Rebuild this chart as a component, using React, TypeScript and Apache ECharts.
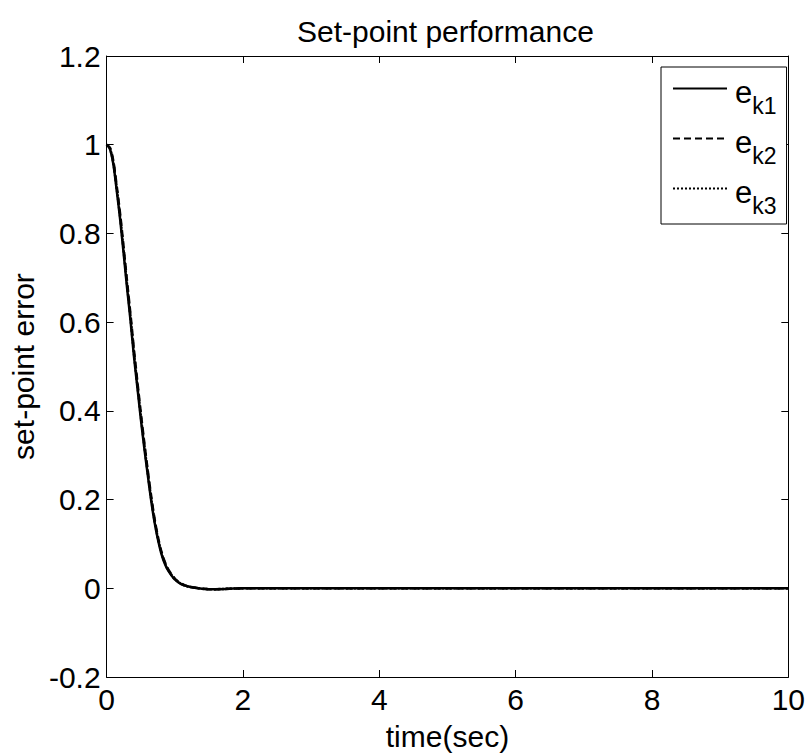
import React, { useEffect, useRef } from "react";
import * as echarts from "echarts";

const FONT = "'Liberation Sans', Arial, Helvetica, sans-serif";

const timeSec = [
  0, 0.05, 0.1, 0.15, 0.2, 0.25, 0.3, 0.35, 0.4, 0.45, 0.5, 0.55, 0.6, 0.65, 0.7, 0.75, 0.8, 0.85, 0.9,
  1.0, 1.1, 1.2, 1.3, 1.4, 1.5, 1.6, 1.8, 2.0, 3, 4, 5, 6, 7, 8, 9, 10,
];
const ek1 = [
  1.0, 0.99, 0.955, 0.895, 0.83, 0.755, 0.678, 0.605, 0.525, 0.455, 0.385, 0.32, 0.26, 0.202, 0.152, 0.112, 0.08, 0.057, 0.041,
  0.02, 0.009, 0.004, 0.001, -0.001, -0.002, -0.002, -0.001, 0, 0, 0, 0, 0, 0, 0, 0, 0,
];
const ek2 = [
  1.0, 0.993, 0.962, 0.905, 0.842, 0.768, 0.692, 0.618, 0.54, 0.468, 0.398, 0.332, 0.27, 0.212, 0.16, 0.118, 0.085, 0.061, 0.044,
  0.022, 0.01, 0.004, 0.001, -0.001, -0.002, -0.002, -0.001, 0, 0, 0, 0, 0, 0, 0, 0, 0,
];
const ek3 = [
  1.0, 0.991, 0.958, 0.9, 0.836, 0.761, 0.685, 0.611, 0.532, 0.461, 0.391, 0.326, 0.265, 0.207, 0.156, 0.115, 0.082, 0.059, 0.042,
  0.021, 0.0095, 0.004, 0.001, -0.001, -0.002, -0.002, -0.001, 0, 0, 0, 0, 0, 0, 0, 0, 0,
];
const seriesNames = ["ek1", "ek2", "ek3"];
const seriesValues = [ek1, ek2, ek3];
const lineTypes: any[] = ["solid", [7, 4], [2, 2]];

const titleText = "Set-point performance";
const xName = "time(sec)";
const yName = "set-point error";

export default function App() {
  const ref = useRef<HTMLDivElement>(null);
  useEffect(() => {
    if (!ref.current) return;
    const chart = echarts.init(ref.current, undefined, { renderer: "svg" });
    const axisLineStyle = { color: "#000", width: 1 };
    const tick = { show: true, inside: true, length: 7, lineStyle: { color: "#000", width: 1 } };
    const labelStyle = { color: "#000", fontSize: 30, fontFamily: FONT };
    const fmt = (v: number) => String(+v.toFixed(1));
    chart.setOption({
      animation: false,
      backgroundColor: "#fff",
      title: {
        text: titleText,
        left: 297,
        top: 16,
        padding: 0,
        textStyle: { color: "#000", fontSize: 30, fontWeight: "normal", fontFamily: FONT },
      },
      grid: { left: 105, right: 17, top: 56, bottom: 71, containLabel: false },
      legend: {
        orient: "vertical",
        left: 661,
        top: 67,
        padding: [6, 10, 7, 11],
        itemWidth: 54,
        itemHeight: 14,
        itemGap: 6,
        borderColor: "#000",
        borderWidth: 1,
        borderRadius: 0,
        backgroundColor: "#fff",
        itemStyle: { color: "rgba(0,0,0,0)", borderColor: "rgba(0,0,0,0)", borderWidth: 0 },
        data: seriesNames,
        formatter: (name: string) => `{e|e}{s|${name.slice(1)}}`,
        textStyle: {
          color: "#000",
          fontFamily: FONT,
          rich: {
            e: { fontSize: 31, lineHeight: 31, fontFamily: FONT, color: "#000", verticalAlign: "top", padding: [4, 0, 0, 3] },
            s: { fontSize: 23, lineHeight: 23, fontFamily: FONT, color: "#000", verticalAlign: "top", padding: [21, 0, 0, 0] },
          },
        },
      },
      xAxis: [
        {
          type: "value",
          min: 0,
          max: 10,
          interval: 2,
          name: xName,
          nameLocation: "middle",
          nameGap: 44,
          nameTextStyle: { color: "#000", fontSize: 30, fontFamily: FONT },
          axisLine: { show: true, onZero: false, lineStyle: axisLineStyle },
          axisTick: tick,
          axisLabel: { ...labelStyle, margin: 7, formatter: fmt },
          splitLine: { show: false },
        },
        {
          type: "value",
          position: "top",
          min: 0,
          max: 10,
          interval: 2,
          axisLine: { show: true, onZero: false, lineStyle: axisLineStyle },
          axisTick: tick,
          axisLabel: { show: false },
          splitLine: { show: false },
        },
      ],
      yAxis: [
        {
          type: "value",
          min: -0.2,
          max: 1.2,
          interval: 0.2,
          name: yName,
          nameLocation: "middle",
          nameGap: 62,
          nameTextStyle: { color: "#000", fontSize: 30, fontFamily: FONT },
          axisLine: { show: true, onZero: false, lineStyle: axisLineStyle },
          axisTick: tick,
          axisLabel: { ...labelStyle, margin: 6, formatter: fmt },
          splitLine: { show: false },
        },
        {
          type: "value",
          position: "right",
          min: -0.2,
          max: 1.2,
          interval: 0.2,
          axisLine: { show: true, onZero: false, lineStyle: axisLineStyle },
          axisTick: tick,
          axisLabel: { show: false },
          splitLine: { show: false },
        },
      ],
      series: seriesNames.map((name, i) => ({
        name,
        type: "line",
        xAxisIndex: 0,
        yAxisIndex: 0,
        symbol: "none",
        showSymbol: false,
        smooth: 0.3,
        color: "#000",
        lineStyle: { color: "#000", width: 2.5, type: lineTypes[i] },
        data: timeSec.map((t, j) => [t, seriesValues[i][j]]),
      })),
    });
    return () => chart.dispose();
  }, []);
  return <div ref={ref} style={{ position: "fixed", left: 0, top: 0, width: 808, height: 756 }} />;
}
